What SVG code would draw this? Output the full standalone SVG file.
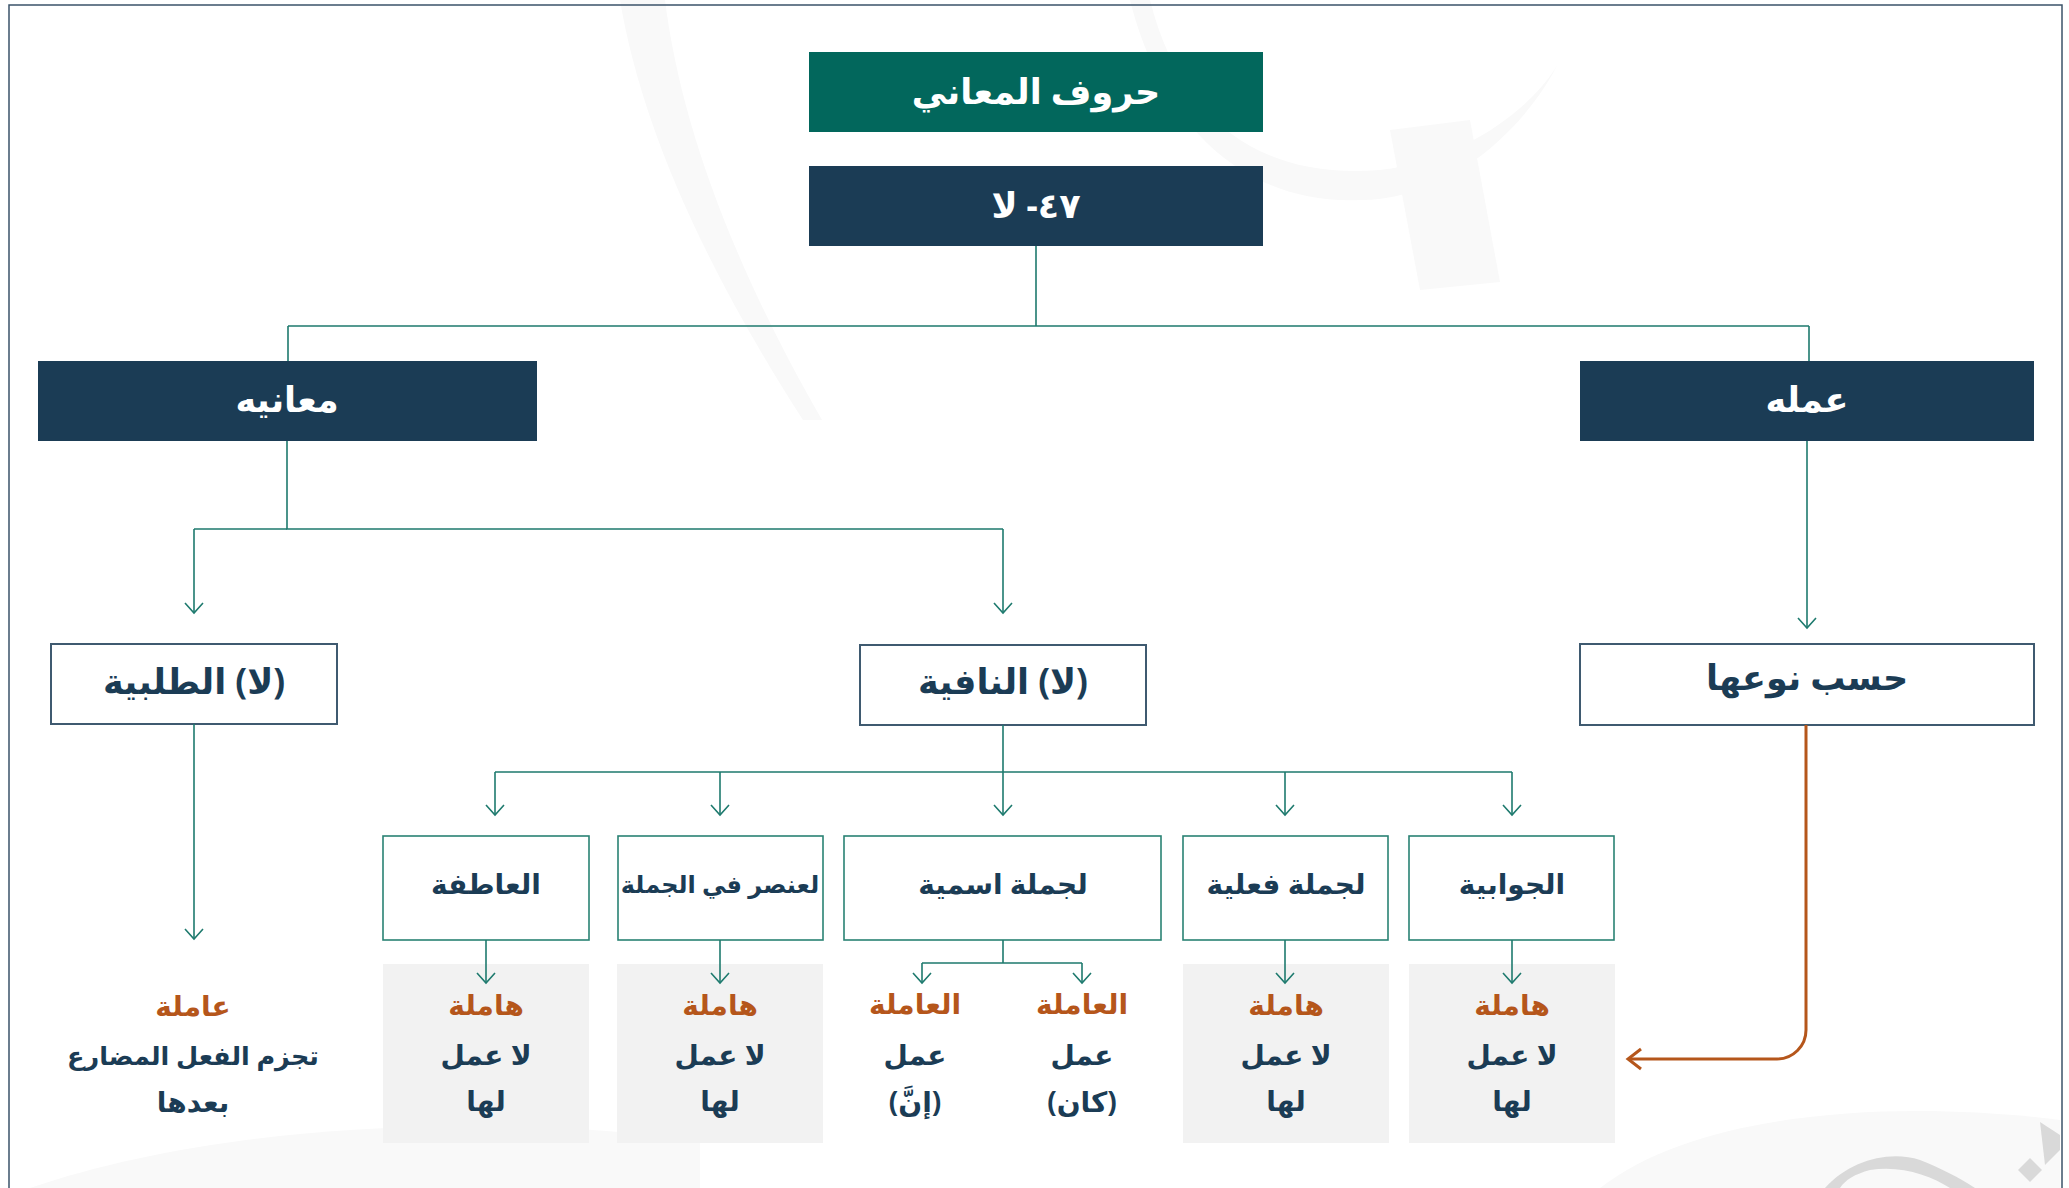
<svg xmlns="http://www.w3.org/2000/svg" width="2069" height="1188" viewBox="0 0 2069 1188">
<defs>
<style>
.t{font-family:"Noto Sans","DejaVu Sans",sans-serif;font-weight:700;text-anchor:middle;direction:rtl;unicode-bidi:embed}
.w{fill:#ffffff}
.d{fill:#1b3c55}
.o{fill:#b5561b}
.h1{font-size:35px}
.h2{font-size:28px}
.ln{fill:none;stroke:#1e7a6e;stroke-width:1.6}
.ar{fill:none;stroke:#1e7a6e;stroke-width:1.6;marker-end:url(#mk)}
.bx1{fill:#ffffff;stroke:#3f5a70;stroke-width:2}
.bx2{fill:#ffffff;stroke:#2a8274;stroke-width:1.6}
.pn{fill:#f2f2f2}
.wm{fill:#f9f9f9}
</style>
<marker id="mk" markerUnits="userSpaceOnUse" markerWidth="24" markerHeight="24" viewBox="-12 -12 24 24" refX="0" refY="0" orient="auto">
<path d="M-10,-9 L0,0 L-10,9" fill="none" stroke="#1e7a6e" stroke-width="1.6"/>
</marker>
<marker id="mko" markerUnits="userSpaceOnUse" markerWidth="30" markerHeight="30" viewBox="-15 -15 30 30" refX="0" refY="0" orient="auto">
<path d="M-13,-10 L0,0 L-13,10" fill="none" stroke="#b5561b" stroke-width="3"/>
</marker>
</defs>
<rect width="2069" height="1188" fill="#ffffff"/>
<g id="watermark">
<path class="wm" d="M620,0 C640,120 700,260 803,420 L822,420 C730,260 680,120 665,0 Z"/>
<path class="wm" d="M1150,0 C1180,120 1260,180 1380,170 C1470,160 1540,100 1560,60 C1520,140 1440,200 1360,200 C1240,205 1160,120 1130,0 Z"/>
<path class="wm" d="M1390,130 L1420,290 L1500,282 L1470,120 Z"/>
<path class="wm" d="M30,1188 C200,1130 450,1110 700,1140 L700,1188 Z"/>
<path class="wm" d="M1600,1188 C1700,1110 1900,1100 2060,1120 L2060,1188 Z"/>
<path d="M1825,1188 C1850,1160 1890,1150 1920,1160 C1940,1168 1960,1178 1975,1188 L1950,1188 C1930,1175 1900,1165 1870,1170 C1855,1174 1845,1180 1840,1188 Z" fill="#d9d9d9"/>
<path d="M2018,1170 L2030,1158 L2042,1170 L2030,1182 Z" fill="#d9d9d9"/>
<path d="M2040,1122 L2060,1135 L2060,1150 L2045,1165 Z" fill="#d9d9d9"/>
</g>
<rect x="9" y="5" width="2053" height="1200" fill="none" stroke="#3b5369" stroke-width="1.5"/>
<g id="n-title">
<rect x="809" y="52" width="454" height="80" fill="#02675c"/>
<text class="t w h1" x="1036" y="104">حروف المعاني</text>
</g>
<g id="n-la">
<rect x="809" y="166" width="454" height="80" fill="#1b3c55"/>
<text class="t w h1" x="1036" y="218">٤٧- لا</text>
</g>
<g id="n-maanih">
<rect x="38" y="361" width="499" height="80" fill="#1b3c55"/>
<text class="t w h1" x="287" y="412">معانيه</text>
</g>
<g id="n-amaluh">
<rect x="1580" y="361" width="454" height="80" fill="#1b3c55"/>
<text class="t w h1" x="1807" y="412">عمله</text>
</g>
<g id="n-talabiya">
<rect class="bx1" x="51" y="644" width="286" height="80"/>
<text class="t d h1" x="194" y="694">(لا) الطلبية</text>
</g>
<g id="n-nafiya">
<rect class="bx1" x="860" y="645" width="286" height="80"/>
<text class="t d h1" x="1003" y="694">(لا) النافية</text>
</g>
<g id="n-naw">
<rect class="bx1" x="1580" y="644" width="454" height="81"/>
<text class="t d h1" x="1807" y="690">حسب نوعها</text>
</g>
<g id="n-atifa">
<rect class="bx2" x="383" y="836" width="206" height="104"/>
<text class="t d h2" x="486" y="894">العاطفة</text>
</g>
<g id="n-unsur">
<rect class="bx2" x="618" y="836" width="205" height="104"/>
<text class="t d" x="720" y="893" font-size="24">لعنصر في الجملة</text>
</g>
<g id="n-ismiya">
<rect class="bx2" x="844" y="836" width="317" height="104"/>
<text class="t d h2" x="1003" y="894">لجملة اسمية</text>
</g>
<g id="n-filiya">
<rect class="bx2" x="1183" y="836" width="205" height="104"/>
<text class="t d h2" x="1286" y="894">لجملة فعلية</text>
</g>
<g id="n-jawabiya">
<rect class="bx2" x="1409" y="836" width="205" height="104"/>
<text class="t d h2" x="1512" y="894">الجوابية</text>
</g>
<g id="r-atifa">
<rect class="pn" x="383" y="964" width="206" height="179"/>
<text class="t o h2" x="486" y="1015">هاملة</text>
<text class="t d h2" x="486" y="1065">لا عمل</text>
<text class="t d h2" x="486" y="1111">لها</text>
</g>
<g id="r-unsur">
<rect class="pn" x="617" y="964" width="206" height="179"/>
<text class="t o h2" x="720" y="1015">هاملة</text>
<text class="t d h2" x="720" y="1065">لا عمل</text>
<text class="t d h2" x="720" y="1111">لها</text>
</g>
<g id="r-inna">
<text class="t o h2" x="915" y="1014">العاملة</text>
<text class="t d h2" x="915" y="1065">عمل</text>
<text class="t d h2" x="915" y="1112">(إنَّ)</text>
</g>
<g id="r-kana">
<text class="t o h2" x="1082" y="1014">العاملة</text>
<text class="t d h2" x="1082" y="1065">عمل</text>
<text class="t d h2" x="1082" y="1112">(كان)</text>
</g>
<g id="r-filiya">
<rect class="pn" x="1183" y="964" width="206" height="179"/>
<text class="t o h2" x="1286" y="1015">هاملة</text>
<text class="t d h2" x="1286" y="1065">لا عمل</text>
<text class="t d h2" x="1286" y="1111">لها</text>
</g>
<g id="r-jawabiya">
<rect class="pn" x="1409" y="964" width="206" height="179"/>
<text class="t o h2" x="1512" y="1015">هاملة</text>
<text class="t d h2" x="1512" y="1065">لا عمل</text>
<text class="t d h2" x="1512" y="1111">لها</text>
</g>
<g id="r-talabiya">
<text class="t o h2" x="193" y="1016">عاملة</text>
<text class="t d" x="193" y="1065" font-size="25.5">تجزم الفعل المضارع</text>
<text class="t d h2" x="193" y="1112">بعدها</text>
</g>
<g id="connectors">
<path class="ln" d="M1036,246 V326 M288,326 H1809 M288,326 V361 M1809,326 V361"/>
<path class="ln" d="M287,441 V529 H1003"/>
<path class="ar" d="M194,529 H287 M194,529 V613"/>
<path class="ar" d="M1003,529 V613"/>
<path class="ar" d="M1807,441 V628"/>
<path class="ln" d="M1003,725 V772 M495,772 H1512"/>
<path class="ar" d="M495,772 V815"/>
<path class="ar" d="M720,772 V815"/>
<path class="ar" d="M1003,772 V815"/>
<path class="ar" d="M1285,772 V815"/>
<path class="ar" d="M1512,772 V815"/>
<path class="ar" d="M194,724 V939"/>
<path class="ar" d="M486,940 V983"/>
<path class="ar" d="M720,940 V983"/>
<path class="ar" d="M1285,940 V983"/>
<path class="ar" d="M1512,940 V983"/>
<path class="ln" d="M1003,940 V963 M922,963 H1082"/>
<path class="ar" d="M922,963 V983"/>
<path class="ar" d="M1082,963 V983"/>
<path d="M1806,725 V1030 A29,29 0 0 1 1777,1059 H1628" fill="none" stroke="#b5561b" stroke-width="3" marker-end="url(#mko)"/>
</g>
</svg>
